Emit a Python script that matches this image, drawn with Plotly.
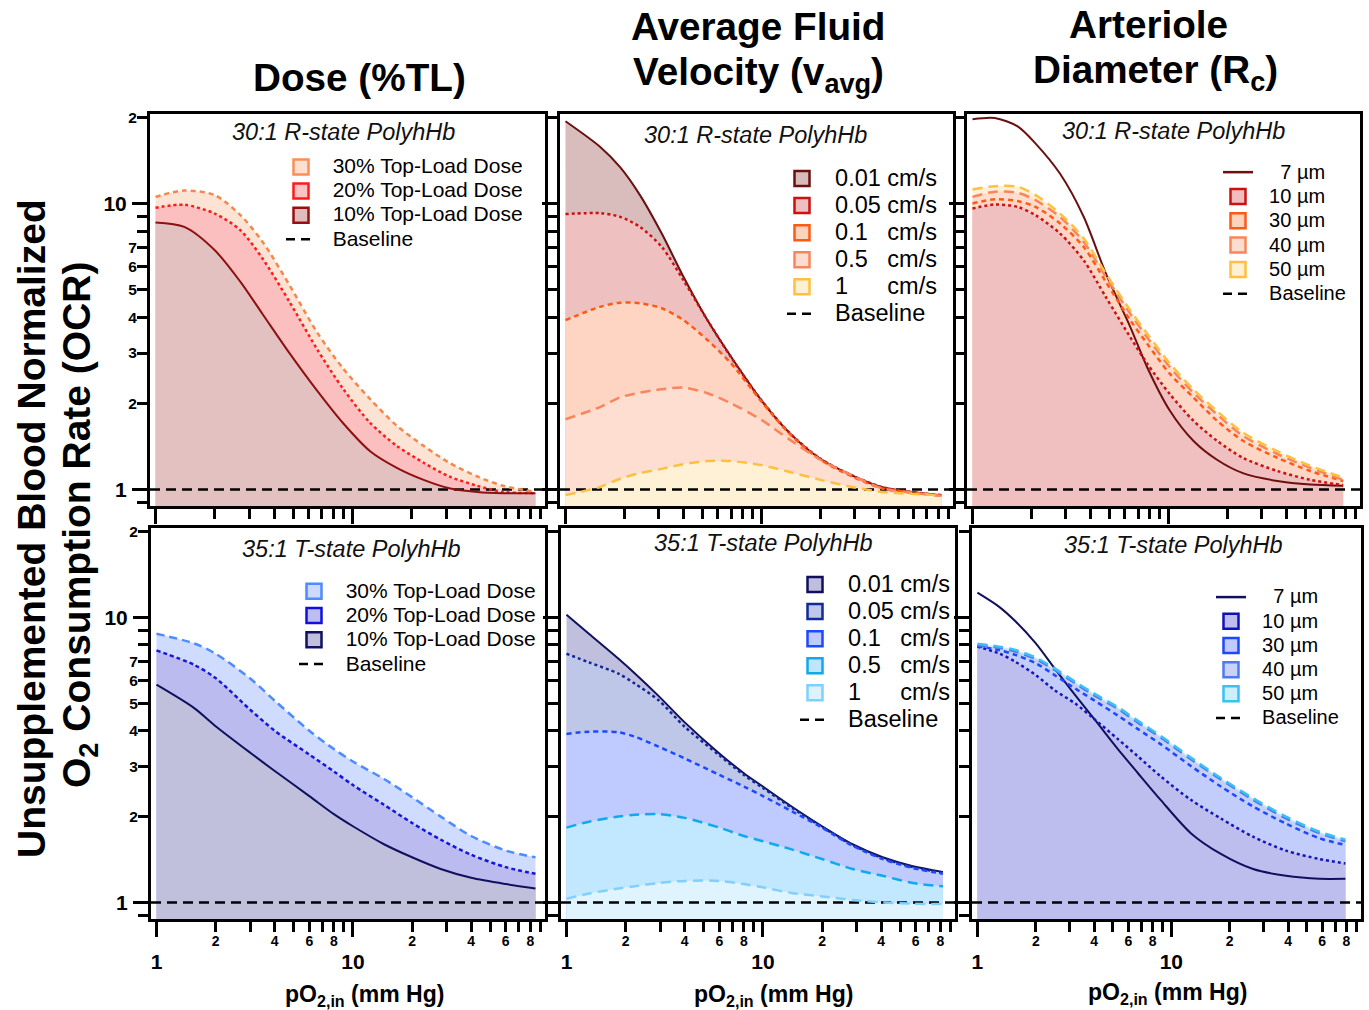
import math
import plotly.graph_objects as go

W, H = 1369, 1010
FONT = "Liberation Sans, Arial, sans-serif"

# ------------------------------------------------------------------ data
# 30:1 R-state PolyhHb - dose
X_DOSE_R = [1, 1.4, 2, 2.7, 3.5, 4.8, 6.6, 9, 12.3, 16.8, 23, 31, 43, 58, 85]
R_DOSE30 = [10.55, 11.1, 10.7, 9.1, 7.34, 5.17, 3.55, 2.64, 2.07, 1.67, 1.42, 1.24, 1.11, 1.03, 0.98]
R_DOSE20 = [9.66, 9.9, 9.22, 8.06, 6.41, 4.52, 3.1, 2.24, 1.71, 1.42, 1.24, 1.11, 1.03, 0.98, 0.97]
R_DOSE10 = [8.58, 8.28, 6.86, 5.32, 4.1, 2.99, 2.22, 1.70, 1.36, 1.19, 1.08, 1.01, 0.98, 0.97, 0.97]

# 30:1 R-state PolyhHb - velocity
X_VEL_R = [1, 1.5, 1.9, 2.4, 3.1, 4, 5.3, 7, 10, 14, 20, 29, 41, 58, 83]
R_V001 = [19.4, 15.8, 13.4, 10.7, 7.85, 5.54, 3.91, 2.91, 2.05, 1.57, 1.28, 1.12, 1.02, 0.98, 0.955]
R_V005 = [9.18, 9.25, 8.98, 8.28, 7.05, 5.39, 3.91, 2.9, 2.05, 1.57, 1.28, 1.12, 1.02, 0.98, 0.955]
R_V01 = [3.91, 4.35, 4.5, 4.48, 4.3, 3.91, 3.33, 2.76, 2.03, 1.56, 1.27, 1.11, 1.01, 0.975, 0.95]
R_V05 = [1.76, 1.94, 2.1, 2.18, 2.24, 2.27, 2.17, 2.0, 1.75, 1.49, 1.27, 1.12, 1.01, 0.975, 0.95]
R_V1 = [0.955, 1.02, 1.09, 1.14, 1.18, 1.226, 1.256, 1.256, 1.216, 1.15, 1.08, 1.02, 0.98, 0.965, 0.955]

# 30:1 R-state PolyhHb - diameter
X_DIA_R = [1, 1.3, 1.7, 2.1, 2.8, 3.7, 4.8, 6.4, 7.8, 10.2, 13.4, 17.7, 24, 36, 53, 78]
R_D7 = [19.7, 19.9, 18.6, 16.2, 12.7, 8.97, 5.68, 3.69, 2.67, 1.88, 1.48, 1.27, 1.14, 1.07, 1.04, 1.03]
R_D10 = [9.6, 9.92, 9.73, 9.1, 7.85, 6.32, 4.7, 3.4, 2.75, 2.15, 1.74, 1.48, 1.29, 1.16, 1.08, 1.035]
R_D30 = [10.0, 10.35, 10.2, 9.73, 8.51, 7.04, 5.31, 3.9, 3.23, 2.53, 2.1, 1.74, 1.48, 1.29, 1.16, 1.07]
R_D40 = [10.55, 11.0, 10.9, 10.27, 8.97, 7.33, 5.53, 4.11, 3.4, 2.67, 2.18, 1.83, 1.54, 1.33, 1.19, 1.08]
R_D50 = [11.2, 11.5, 11.45, 10.7, 9.22, 7.54, 5.68, 4.22, 3.5, 2.75, 2.24, 1.88, 1.58, 1.36, 1.21, 1.1]

# 35:1 T-state PolyhHb - dose
X_DOSE_T = [1, 1.55, 2, 3, 4, 6, 8, 10, 14.4, 20, 28, 40, 60, 85]
T_DOSE30 = [8.75, 8.1, 7.45, 6.1, 5.1, 4.0, 3.45, 3.12, 2.71, 2.34, 2.0, 1.71, 1.52, 1.44]
T_DOSE20 = [7.65, 6.82, 6.12, 4.74, 4.0, 3.3, 2.88, 2.58, 2.2, 1.9, 1.66, 1.47, 1.33, 1.26]
T_DOSE10 = [5.8, 4.81, 4.15, 3.35, 2.89, 2.36, 2.04, 1.85, 1.6, 1.44, 1.31, 1.22, 1.16, 1.12]

# 35:1 T-state PolyhHb - velocity
X_VEL_T = [1, 1.3, 1.84, 2.23, 2.94, 4, 6, 8, 10, 14, 20, 28.6, 40.7, 58, 82.5]
T_V001 = [10.2, 8.75, 7.15, 6.35, 5.3, 4.28, 3.33, 2.84, 2.55, 2.17, 1.85, 1.6, 1.44, 1.34, 1.28]
T_V005 = [7.45, 6.95, 6.34, 5.85, 5.12, 4.13, 3.28, 2.8, 2.52, 2.15, 1.84, 1.59, 1.43, 1.33, 1.27]
T_V01 = [3.9, 3.97, 3.95, 3.81, 3.52, 3.2, 2.8, 2.55, 2.36, 2.09, 1.83, 1.58, 1.42, 1.32, 1.26]
T_V05 = [1.83, 1.92, 2.0, 2.03, 2.04, 1.98, 1.83, 1.71, 1.64, 1.535, 1.42, 1.31, 1.24, 1.17, 1.14]
T_V1 = [1.03, 1.075, 1.12, 1.14, 1.17, 1.19, 1.19, 1.16, 1.13, 1.08, 1.05, 1.02, 1.0, 0.99, 0.987]

# 35:1 T-state PolyhHb - diameter
X_DIA_T = [1, 1.29, 1.57, 2, 2.5, 3.2, 4, 5.3, 6.7, 8.8, 12.6, 18, 26.4, 39, 58, 79]
T_D7 = [12.2, 10.9, 9.68, 8.1, 6.62, 5.32, 4.4, 3.45, 2.85, 2.29, 1.75, 1.48, 1.31, 1.24, 1.21, 1.21]
T_D10 = [7.89, 7.47, 6.98, 6.27, 5.55, 4.98, 4.4, 3.74, 3.26, 2.77, 2.29, 1.97, 1.7, 1.52, 1.42, 1.37]
T_D30 = [7.92, 7.68, 7.38, 6.9, 6.27, 5.62, 5.11, 4.52, 4.06, 3.59, 3.01, 2.55, 2.17, 1.89, 1.68, 1.59]
T_D40 = [8.0, 7.82, 7.58, 7.14, 6.53, 5.86, 5.32, 4.78, 4.28, 3.79, 3.18, 2.7, 2.29, 1.97, 1.75, 1.64]
T_D50 = [8.07, 7.89, 7.68, 7.22, 6.62, 5.93, 5.4, 4.84, 4.34, 3.84, 3.22, 2.73, 2.32, 2.0, 1.77, 1.66]

BASELINE = 1.0

DOSE_NAMES = ["30% Top-Load Dose", "20% Top-Load Dose", "10% Top-Load Dose"]
VEL_NAMES = ["0.01 cm/s", "0.05 cm/s", "0.1\u00a0\u00a0\u00a0cm/s", "0.5\u00a0\u00a0\u00a0cm/s",
             "1\u00a0\u00a0\u00a0\u00a0\u00a0\u00a0cm/s"]
DIA_NAMES = ["\u00a0\u00a07 µm", "10 µm", "30 µm", "40 µm", "50 µm"]

COLUMN_TITLE_LINES = [["Dose (%TL)"], ["Average Fluid", "Velocity (v<sub>avg</sub>)"],
                      ["Arteriole", "Diameter (R<sub>c</sub>)"]]
ROW_TITLES = ["30:1 R-state PolyhHb", "35:1 T-state PolyhHb"]
Y_TITLE_LINES = ["Unsupplemented Blood Normalized", "O<sub>2</sub> Consumption Rate (OCR)"]
X_TITLE = "pO<sub>2,in</sub> (mm Hg)"

X_SMALL_TICKS = [2, 4, 6, 8, 20, 40, 60, 80]
X_SMALL_TEXT = ["2", "4", "6", "8", "2", "4", "6", "8"]
X_UNLABELED_TICKS = [3, 5, 7, 9, 30, 50, 70, 90]
X_MAJOR_TICKS = [1, 10]
X_MAJOR_TEXT = ["1", "10"]
Y_SMALL_TICKS = [2, 3, 4, 5, 6, 7, 20]
Y_SMALL_TEXT = ["2", "3", "4", "5", "6", "7", "2"]
Y_UNLABELED_TICKS = [0.9, 8, 9]
Y_MAJOR_TICKS = [1, 10]
Y_MAJOR_TEXT = ["1", "10"]

# ------------------------------------------------------------------ styles
X_RANGE_LOG = [-0.028, 1.978]
Y_RANGE_LOG = [-0.058, 1.313]

SOLID, DOT = "solid", "dot"
SDASH, LDASH, MDASH = "5px,4px", "10px,6px", "8px,5px"

# (line colour, dash, fill colour or None, legend fill, legend border)
STY_DOSE_R = [("#F4874B", SDASH, "#FDE3D4", "#FDE0CF", "#F98E57"),
              ("#FF1A1A", DOT, "#FBBFBF", "#FBC4C4", "#FF1A1A"),
              ("#8E1010", SOLID, "#E3C1C1", "#E0BCBC", "#9B0E0E")]
STY_VEL_R = [("#6B1010", SOLID, "#D9BCBC", "#D8BCBC", "#6B0F0F"),
             ("#CC1111", DOT, "#EFC0C0", "#EEBFBF", "#CC1111"),
             ("#FF5A14", SDASH, "#FDD5C2", "#FDD3BE", "#FF5A14"),
             ("#F9865A", LDASH, "#FDDED1", "#FDDDD0", "#F9865A"),
             ("#FFC040", LDASH, "#FFF1D6", "#FFF0D4", "#FFC040")]
STY_DIA_R = [("#6B1010", SOLID, None, None, "#6B1010"),
             ("#CC1111", DOT, "#F0BFBF", "#F0BEBE", "#CC1111"),
             ("#FF5A14", SDASH, "#FDD6C6", "#FDD3BE", "#FF5A14"),
             ("#F9865A", LDASH, "#FDDDD0", "#FDDDD0", "#F9865A"),
             ("#FFC040", LDASH, "#FFEFD6", "#FFF0D4", "#FFC040")]
STY_DOSE_T = [("#4D8BFF", MDASH, "#D0DCFF", "#CCDAFF", "#4D8BFF"),
              ("#1515DD", "4px,3px", "#BBBBF0", "#BDBDF2", "#1010DD"),
              ("#10105E", SOLID, "#C0C0DC", "#BFBFDC", "#101060")]
STY_VEL_T = [("#10105E", SOLID, "#C0C0DE", "#BFBFDD", "#0F0F5E"),
             ("#10289A", DOT, "#BFC7E9", "#BFC8E8", "#102A99"),
             ("#1E48FF", SDASH, "#BFCBFF", "#BFCBFF", "#1E48FF"),
             ("#10A8F0", LDASH, "#C1E8FF", "#BFE6FF", "#10A8F0"),
             ("#80D0FF", LDASH, "#E0F4FF", "#DDF2FF", "#80D0FF")]
STY_DIA_T = [("#10105E", SOLID, None, None, "#10105E"),
             ("#1515BB", DOT, "#BEBEEE", "#BDBDF0", "#1010BB"),
             ("#1E48FF", SDASH, "#C2CDFC", "#BFCBFF", "#1E48FF"),
             ("#4D7BEE", LDASH, "#C5D0F8", "#C8D2F7", "#4D7BEE"),
             ("#3BC0F5", LDASH, "#CCEBFC", "#CDEEFC", "#3BC0F5")]

PANELS = [
    dict(x=X_DOSE_R, ys=[R_DOSE30, R_DOSE20, R_DOSE10], names=DOSE_NAMES, sty=STY_DOSE_R,
         px=(150, 545), py=(114, 506), row=1, col=1, sub=(343, 132),
         leg=dict(left=281, top=150, fs=16.2, ts=21)),
    dict(x=X_VEL_R, ys=[R_V001, R_V005, R_V01, R_V05, R_V1], names=VEL_NAMES, sty=STY_VEL_R,
         px=(560, 953), py=(114, 506), row=1, col=2, sub=(755, 135),
         leg=dict(left=782, top=160, fs=18.5, ts=23.5)),
    dict(x=X_DIA_R, ys=[R_D7, R_D10, R_D30, R_D40, R_D50], names=DIA_NAMES, sty=STY_DIA_R,
         px=(967, 1360), py=(114, 506), row=1, col=3, sub=(1173, 131),
         leg=dict(left=1218, top=155, fs=16.4, ts=20)),
    dict(x=X_DOSE_T, ys=[T_DOSE30, T_DOSE20, T_DOSE10], names=DOSE_NAMES, sty=STY_DOSE_T,
         px=(151, 545), py=(528, 919), row=2, col=1, sub=(352, 549),
         leg=dict(left=294, top=574, fs=16.4, ts=21)),
    dict(x=X_VEL_T, ys=[T_V001, T_V005, T_V01, T_V05, T_V1], names=VEL_NAMES, sty=STY_VEL_T,
         px=(561, 955), py=(528, 919), row=2, col=2, sub=(763, 543),
         leg=dict(left=795, top=566, fs=18.5, ts=23.5)),
    dict(x=X_DIA_T, ys=[T_D7, T_D10, T_D30, T_D40, T_D50], names=DIA_NAMES, sty=STY_DIA_T,
         px=(972, 1361), py=(528, 919), row=2, col=3, sub=(1173, 545),
         leg=dict(left=1211, top=580, fs=16.3, ts=20)),
]

fig = go.Figure()
layout = dict(width=W, height=H, margin=dict(l=0, r=0, t=0, b=0),
              paper_bgcolor="white", plot_bgcolor="white", template="none",
              hovermode=False, annotations=[])

x_lo, x_hi = 10 ** X_RANGE_LOG[0], 10 ** X_RANGE_LOG[1]


def tickfont(size):
    return dict(family=FONT, size=size, color="black", weight="bold")


def minor(vals):
    return dict(tickmode="array", tickvals=vals, ticks="outside", ticklen=10, tickwidth=3,
                tickcolor="black", showgrid=False)


for i, p in enumerate(PANELS, start=1):
    xa = "x" if i == 1 else f"x{i}"
    ya = "y" if i == 1 else f"y{i}"
    xo, yo = f"x{i + 6}", f"y{i + 6}"
    lg = "legend" if i == 1 else f"legend{i}"
    bottom = p["row"] == 2
    left = p["col"] == 1

    # fills (highest curve first)
    filled = [k for k, s in enumerate(p["sty"]) if s[2] is not None]
    filled.sort(key=lambda k: -sum(math.log10(v) for v in p["ys"][k]))
    for k in filled:
        fig.add_trace(go.Scatter(x=p["x"], y=p["ys"][k], mode="lines",
                                 line=dict(width=0, shape="spline", smoothing=0.8),
                                 fill="tozeroy", fillcolor=p["sty"][k][2],
                                 showlegend=False, hoverinfo="skip", xaxis=xa, yaxis=ya))
    # baseline
    fig.add_trace(go.Scatter(x=[x_lo, x_hi], y=[BASELINE, BASELINE], mode="lines",
                             line=dict(color="black", width=2.5, dash="10px,6px"),
                             showlegend=False, hoverinfo="skip", xaxis=xa, yaxis=ya))
    # lines
    for k, (yv, s) in enumerate(zip(p["ys"], p["sty"])):
        fig.add_trace(go.Scatter(x=p["x"], y=yv, mode="lines",
                                 line=dict(color=s[0], width=2 if s[1] == SOLID else 2.5,
                                           dash=s[1], shape="spline", smoothing=0.8),
                                 showlegend=False, hoverinfo="skip", xaxis=xa, yaxis=ya))
    # legend entries
    ts = p["leg"]["ts"]
    for name, s in zip(p["names"], p["sty"]):
        label = f'<span style="font-size:{ts}px">\u00a0\u00a0{name}</span>'
        if s[2] is None:
            fig.add_trace(go.Scatter(x=[None], y=[None], mode="lines", name=label,
                                     line=dict(color=s[0], width=2.5), legend=lg,
                                     xaxis=xa, yaxis=ya))
        else:
            fig.add_trace(go.Scatter(x=[None], y=[None], mode="markers", name=label,
                                     marker=dict(symbol="square", size=15, color=s[3],
                                                 line=dict(color=s[4], width=2.5)),
                                     legend=lg, xaxis=xa, yaxis=ya))
    fig.add_trace(go.Scatter(x=[None], y=[None], mode="lines",
                             name=f'<span style="font-size:{ts}px">\u00a0\u00a0Baseline</span>',
                             line=dict(color="black", width=2.5, dash="9px,6px"),
                             legend=lg, xaxis=xa, yaxis=ya))
    # dummy trace for overlay axes
    fig.add_trace(go.Scatter(x=[None], y=[None], showlegend=False, hoverinfo="skip",
                             xaxis=xo, yaxis=yo))

    dom_x = [p["px"][0] / W, p["px"][1] / W]
    dom_y = [1 - p["py"][1] / H, 1 - p["py"][0] / H]
    common = dict(type="log", showgrid=False, zeroline=False, ticks="outside",
                  tickwidth=3, tickcolor="black", tickmode="array", automargin=False)
    layout["xaxis" if i == 1 else f"xaxis{i}"] = dict(
        common, range=X_RANGE_LOG, domain=dom_x, anchor=ya, showline=True, linewidth=3,
        linecolor="black", mirror=True, ticklen=10, tickvals=X_SMALL_TICKS,
        ticktext=X_SMALL_TEXT, showticklabels=bottom, tickfont=tickfont(14),
        ticklabelstandoff=-3, minor=minor(X_UNLABELED_TICKS))
    layout["yaxis" if i == 1 else f"yaxis{i}"] = dict(
        common, range=Y_RANGE_LOG, domain=dom_y, anchor=xa, showline=True, linewidth=3,
        linecolor="black", mirror=True, ticklen=10, tickvals=Y_SMALL_TICKS,
        ticktext=Y_SMALL_TEXT, showticklabels=left, tickfont=tickfont(15.5),
        ticklabelstandoff=-3, minor=minor(Y_UNLABELED_TICKS))
    layout[f"xaxis{i + 6}"] = dict(
        common, range=X_RANGE_LOG, overlaying=xa, anchor=ya, side="bottom", showline=False,
        ticklen=17, tickvals=X_MAJOR_TICKS, ticktext=X_MAJOR_TEXT, showticklabels=bottom,
        tickfont=tickfont(21), ticklabelstandoff=7)
    layout[f"yaxis{i + 6}"] = dict(
        common, range=Y_RANGE_LOG, overlaying=ya, anchor=xa, side="left", showline=False,
        ticklen=17, tickvals=Y_MAJOR_TICKS, ticktext=Y_MAJOR_TEXT, showticklabels=left,
        tickfont=tickfont(21), ticklabelstandoff=1)

    layout[lg] = dict(x=p["leg"]["left"] / W, y=1 - p["leg"]["top"] / H, xanchor="left",
                      yanchor="top", bgcolor="rgba(0,0,0,0)", borderwidth=0,
                      font=dict(family=FONT, size=p["leg"]["fs"], color="black"),
                      itemwidth=30, traceorder="normal", tracegroupgap=0)

    layout["annotations"].append(dict(
        text=ROW_TITLES[p["row"] - 1], x=p["sub"][0] / W, y=1 - p["sub"][1] / H,
        xref="paper", yref="paper", xanchor="center", yanchor="middle", showarrow=False,
        font=dict(family=FONT, size=23.5, color="#111111", style="italic")))

# column titles (one annotation per line)
TITLE_POS = [[(359, 78)], [(758, 26), (758, 75)], [(1148, 24), (1155, 73)]]
for lines, poss in zip(COLUMN_TITLE_LINES, TITLE_POS):
    for txt, (cx, cy) in zip(lines, poss):
        layout["annotations"].append(dict(
            text=txt, x=cx / W, y=1 - cy / H, xref="paper", yref="paper", xanchor="center",
            yanchor="middle", showarrow=False,
            font=dict(family=FONT, size=38.7, color="black", weight="bold")))
# x titles
for cx, cy in [(365, 995), (773, 995), (1167, 993)]:
    layout["annotations"].append(dict(
        text=X_TITLE, x=cx / W, y=1 - cy / H, xref="paper", yref="paper", xanchor="center",
        yanchor="middle", showarrow=False,
        font=dict(family=FONT, size=23, color="black", weight="bold")))
# y title (two rotated lines)
for txt, (cx, cy) in zip(Y_TITLE_LINES, [(31, 529), (79, 525)]):
    layout["annotations"].append(dict(
        text=txt, x=cx / W, y=1 - cy / H, xref="paper", yref="paper", xanchor="center",
        yanchor="middle", showarrow=False, textangle=-90,
        font=dict(family=FONT, size=39, color="black", weight="bold")))

fig.update_layout(**layout)
fig.write_html("out.html")
